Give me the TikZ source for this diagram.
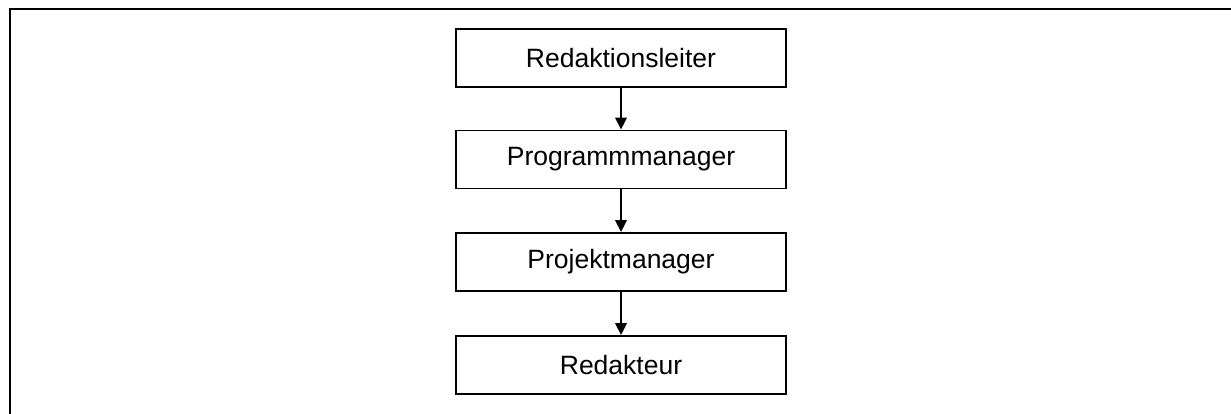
\documentclass[tikz,border=0pt]{standalone}
\usepackage{fontspec}
\setmainfont{Liberation Sans}
\usetikzlibrary{arrows.meta}
\begin{document}
\begin{tikzpicture}[x=1pt,y=-1pt,
  box/.style={draw,line width=1.6pt,minimum width=330pt,minimum height=58pt,inner sep=0pt,
    font=\fontsize{26.5}{30}\selectfont},
  conn/.style={line width=2.8pt,-{Triangle[width=11pt,length=12pt]}},
  frame/.style={line width=2.6pt}]
\useasboundingbox (0,0) rectangle (1231,414);
\coordinate (tl) at (10,9);
\coordinate (tr) at (1231,9);
\coordinate (bl) at (10,414);
\draw[frame] (tr) -- (tl) -- (bl);
\node[box] (a) at (621,58) {Redaktionsleiter};
\node[box] (b) at (621,159.5) {Programmmanager};
\node[box] (c) at (621,262) {Projektmanager};
\node[box] (d) at (621,365) {Redakteur};
\draw[conn] (a) -- (b);
\draw[conn] (b) -- (c);
\draw[conn] (c) -- (d);
\end{tikzpicture}
\end{document}
